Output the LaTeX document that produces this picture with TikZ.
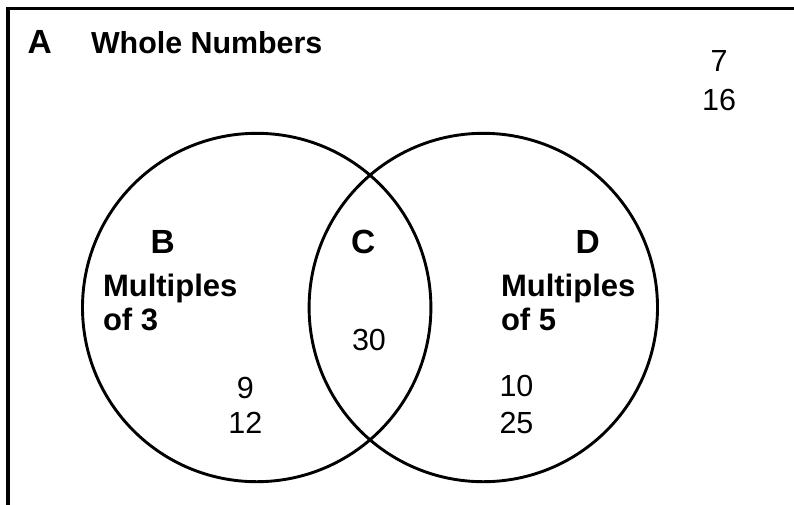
\documentclass[tikz,border=0pt]{standalone}
\usepackage{fontspec}
\setmainfont{Liberation Sans}
\begin{document}
\begin{tikzpicture}[x=1pt,y=-1pt,
  lbl/.style={inner sep=0pt, outer sep=0pt, font=\fontsize{33.5}{38}\selectfont\bfseries},
  ttl/.style={inner sep=0pt, outer sep=0pt, font=\fontsize{31}{35}\selectfont\bfseries},
  num/.style={inner sep=0pt, outer sep=0pt, font=\fontsize{30.5}{35}\selectfont},
  setline/.style={draw=black, line width=2.9pt}]
  \useasboundingbox (0,0) rectangle (794,504);
  \clip (0,0) rectangle (794,504);
  \fill[white] (0,0) rectangle (794,504);

  % universal set frame (only its top and left edges fall on the page)
  \draw[line width=3.2pt] (8,520) -- (8,8.5) -- (810,8.5);

  % the two sets
  \node[setline, circle, minimum size=348.4pt, inner sep=0pt] (setB) at (256.7,307.5) {};
  \node[setline, circle, minimum size=348.4pt, inner sep=0pt] (setD) at (483.3,307.5) {};

  % headings
  \node[lbl, anchor=base west] (lA) at (27.5,53.3) {A};
  \node[ttl, anchor=base west, font=\fontsize{30.4}{35}\selectfont\bfseries] (whole) at (91,53.3) {Whole Numbers};

  \node[lbl, anchor=base west] (lB) at (150.5,253.3) {B};
  \node[ttl, anchor=base west] (multB) at (103,296.7) {Multiples};
  \node[ttl, anchor=base west] (ofB) at (103,330) {of 3};

  \node[lbl, anchor=base west] (lC) at (351,253.3) {C};

  \node[lbl, anchor=base west] (lD) at (575.5,253.3) {D};
  \node[ttl, anchor=base west] (multD) at (501,296.7) {Multiples};
  \node[ttl, anchor=base west] (ofD) at (501,330) {of 5};

  % elements
  \node[num, anchor=base] (n7) at (719,71.7) {7};
  \node[num, anchor=base] (n16) at (719,110) {16};

  \node[num, anchor=base] (n9) at (245.4,398) {9};
  \node[num, anchor=base] (n12) at (245.4,433.3) {12};

  \node[num, anchor=base west] (n30) at (352,350) {30};

  \node[num, anchor=base west] (n10) at (499.5,396.7) {10};
  \node[num, anchor=base west] (n25) at (499.5,433.3) {25};
\end{tikzpicture}
\end{document}
